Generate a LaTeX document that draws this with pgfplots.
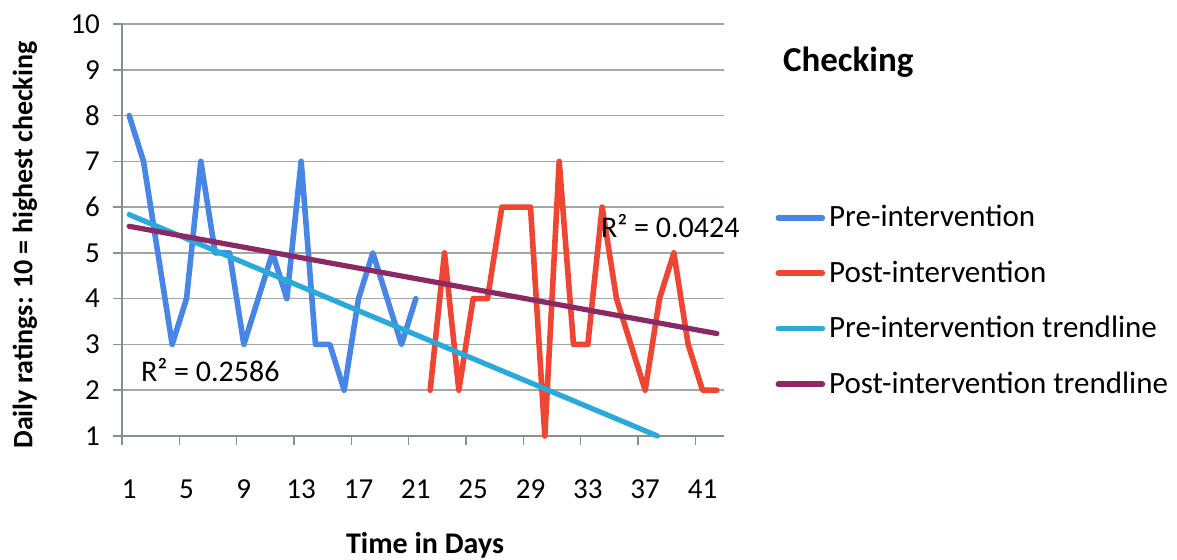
\documentclass[border=0pt]{standalone}
\usepackage{pgfplots}
\pgfplotsset{compat=1.18}
\usepackage{fontspec}
\setmainfont{Carlito}
\definecolor{preblue}{RGB}{72,134,230}
\definecolor{postred}{RGB}{238,70,50}
\definecolor{pretrend}{RGB}{40,170,218}
\definecolor{posttrend}{RGB}{140,40,100}
\definecolor{gridgray}{RGB}{160,168,168}
\definecolor{axgray}{RGB}{135,145,145}
\begin{document}
\begin{tikzpicture}[x=1pt,y=1pt]
\path[use as bounding box] (0,0) rectangle (588.5,280);
\begin{axis}[
  at={(61pt,62pt)}, anchor=south west,
  scale only axis, width=301pt, height=206pt,
  xmin=0.5, xmax=42.5, ymin=1, ymax=10,
  clip=false,
  axis x line*=bottom, axis y line*=left,
  axis line style={-, draw=axgray, line width=0.8pt},
  xtick={0.5,4.5,8.5,12.5,16.5,20.5,24.5,28.5,32.5,36.5,40.5},
  xticklabels={},
  extra x ticks={1,5,9,13,17,21,25,29,33,37,41},
  extra x tick style={grid=none, major tick length=0pt},
  tick style={draw=axgray, line width=0.8pt},
  ytick={1,2,3,4,5,6,7,8,9,10},
  tick align=outside,
  major tick length=4.5pt,
  ymajorgrids,
  major grid style={draw=gridgray, line width=0.8pt},
  /pgf/number format/assume math mode=true,
  ticklabel style={font=\fontsize{14.5}{16}\selectfont},
  xticklabel style={yshift=-18.5pt},
  yticklabel style={xshift=-3pt},
  no markers,
  legend style={at={(1.075,0.575)}, anchor=north west, draw=none, fill=none,
    font=\fontsize{15.5}{17}\selectfont, row sep=13.5pt, column sep=1pt,
    nodes={inner sep=1pt}, cells={anchor=west}},
  legend image code/.code={\draw[#1, line width=2.8pt, line cap=round] (0pt,0pt) -- (22pt,0pt);},
]
\addplot[preblue, line width=2.8pt, line join=round, line cap=round] coordinates {
(1,8)(2,7)(3,5)(4,3)(5,4)(6,7)(7,5)(8,5)(9,3)(10,4)(11,5)(12,4)(13,7)(14,3)(15,3)(16,2)(17,4)(18,5)(19,4)(20,3)(21,4)};
\addlegendentry{Pre-intervention}
\addplot[postred, line width=2.8pt, line join=round, line cap=round] coordinates {
(22,2)(23,5)(24,2)(25,4)(26,4)(27,6)(28,6)(29,6)(30,1)(31,7)(32,3)(33,3)(34,6)(35,4)(36,3)(37,2)(38,4)(39,5)(40,3)(41,2)(42,2)};
\addlegendentry{Post-intervention}
\addplot[pretrend, line width=2.6pt, line cap=round] coordinates {(1,5.8355)(37.865,1)};
\addlegendentry{Pre-intervention trendline}
\addplot[posttrend, line width=2.6pt, line cap=round] coordinates {(1,5.581)(42,3.238)};
\addlegendentry{Post-intervention trendline}
\end{axis}
\node[anchor=west, font=\fontsize{17.5}{20}\selectfont\bfseries] at (388,249) {Checking};
\node[rotate=90, font=\fontsize{14}{16}\selectfont\bfseries] at (12.5,157.5) {Daily ratings: 10 = highest checking};
\node[font=\fontsize{15}{17}\selectfont\bfseries] at (212.5,7.5) {Time in Days};
\node[anchor=west, font=\fontsize{15}{17}\selectfont] at (67,95) {R² = 0.2586};
\node[anchor=west, font=\fontsize{15}{17}\selectfont] at (297,167) {R² = 0.0424};
\end{tikzpicture}
\end{document}
